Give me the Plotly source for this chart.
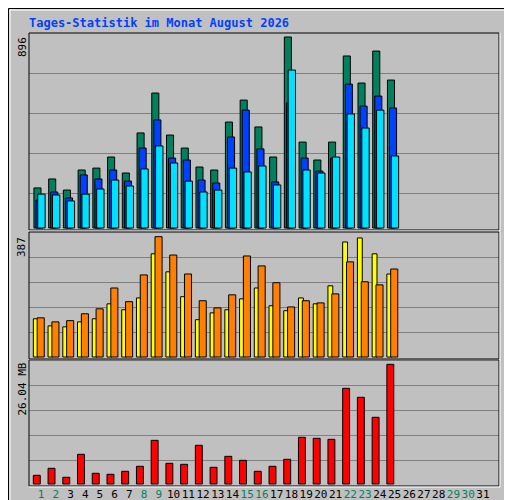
import plotly.graph_objects as go

# Data
days = list(range(1, 32))
anfragen = [188, 230, 178, 272, 281, 333, 258, 446, 633, 436, 375, 286, 272, 497, 600, 474, 333, 896, 403, 319, 403, 807, 680, 830, 694]
dateien = [131, 169, 141, 249, 230, 272, 220, 375, 507, 328, 319, 225, 211, 427, 553, 371, 216, 586, 328, 267, 328, 675, 572, 619, 563]
seiten = [159, 155, 127, 159, 183, 225, 197, 277, 385, 305, 220, 169, 178, 281, 263, 291, 202, 741, 272, 258, 333, 535, 469, 553, 338]
besuche = [123, 100, 97, 113, 123, 171, 152, 190, 332, 274, 194, 120, 142, 152, 187, 222, 165, 149, 190, 171, 229, 370, 383, 332, 267]
rechner = [126, 113, 117, 139, 155, 222, 178, 264, 387, 328, 267, 181, 158, 200, 325, 293, 239, 161, 181, 174, 203, 306, 242, 232, 283]
volumen_mb = [1.89, 3.41, 1.46, 6.46, 2.33, 2.11, 2.76, 3.85, 9.50, 4.50, 4.28, 8.42, 3.63, 6.02, 5.15, 2.76, 3.85, 5.37, 10.16, 9.94, 9.72, 20.81, 18.86, 14.51, 26.04]
weekend = [1, 2, 8, 9, 15, 16, 22, 23, 29, 30]

BG = "#C0C0C0"
GREEN = "#00805C"
BLUE = "#0040FF"
CYAN = "#00E0FF"
YELLOW = "#FFFF00"
ORANGE = "#FF8000"
RED = "#FF0000"
MONO = "DejaVu Sans Mono"

def py(px):
    return 1 - px / 500

def px_x(px):
    return px / 512

n = len(anfragen)
x = days[:n]

fig = go.Figure()

def bars(vals, color, offset, width, xa, ya):
    fig.add_trace(go.Bar(x=x, y=vals, offset=offset, width=width,
                         marker=dict(color=color, line=dict(color="black", width=1)),
                         xaxis=xa, yaxis=ya, showlegend=False, hoverinfo="skip"))

bars(anfragen, GREEN, -0.48, 0.48, "x", "y")
bars(dateien, BLUE, -0.34, 0.48, "x", "y")
bars(seiten, CYAN, -0.22, 0.5, "x", "y")
bars(besuche, YELLOW, -0.52, 0.33, "x2", "y2")
bars(rechner, ORANGE, -0.26, 0.48, "x2", "y2")
bars(volumen_mb, RED, -0.52, 0.47, "x3", "y3")

k1 = 896 / 191
k2 = 387 / 120.3
k3 = 26.04 / 119.7

xr = [1 + (21 - 33) / 14.73, 1 + (491 - 33) / 14.73]
xdom = [px_x(21), px_x(491)]
xcommon = dict(range=xr, domain=xdom, showgrid=False, zeroline=False, showline=False)

tick_text = ['<span style="color:%s">%d</span>' % ("#008060" if d in weekend else "black", d) for d in days]

ycommon = dict(showline=False, zeroline=False, showticklabels=False, ticks="",
               gridcolor="#808080", gridwidth=1)

fig.update_layout(
    width=512, height=500, margin=dict(l=0, r=0, t=0, b=0, autoexpand=False),
    paper_bgcolor=BG, plot_bgcolor=BG, barmode="overlay",
    font=dict(family=MONO, color="black"),
    xaxis=dict(**xcommon, anchor="y", showticklabels=False),
    xaxis2=dict(**xcommon, anchor="y2", showticklabels=False),
    xaxis3=dict(**xcommon, anchor="y3", tickvals=days, ticktext=tick_text, tickangle=0,
                tickfont=dict(size=11, family=MONO), ticks="", ticklen=0),
    yaxis=dict(**ycommon, domain=[py(222), py(25)], range=[-2 * k1, 195 * k1],
               tickvals=[h * k1 for h in (35, 75, 115, 155)]),
    yaxis2=dict(**ycommon, domain=[py(351), py(224)], range=[-2 * k2, 125 * k2],
                tickvals=[h * k2 for h in (25, 50, 75, 100)]),
    yaxis3=dict(**ycommon, domain=[py(478), py(352)], range=[-2 * k3, 124 * k3],
                tickvals=[h * k3 for h in (24, 49, 74, 99)]),
)

# panel frames
for top, bot in ((25, 222), (224, 351), (352, 478)):
    fig.add_shape(type="rect", xref="paper", yref="paper", x0=px_x(21), x1=px_x(491),
                  y0=py(bot), y1=py(top), line=dict(color="black", width=1))
    fig.add_shape(type="line", xref="paper", yref="paper", x0=px_x(21), x1=px_x(492),
                  y0=py(bot + 1), y1=py(bot + 1), line=dict(color="white", width=1))
    fig.add_shape(type="line", xref="paper", yref="paper", x0=px_x(492), x1=px_x(492),
                  y0=py(bot + 1), y1=py(top), line=dict(color="white", width=1))

# outer frame
fig.add_shape(type="rect", xref="paper", yref="paper", x0=0.001, x1=0.999, y0=0.001, y1=0.999,
              line=dict(color="black", width=1))
fig.add_shape(type="rect", xref="paper", yref="paper", x0=px_x(2), x1=px_x(509),
              y0=py(497), y1=py(2), line=dict(color="white", width=1))

fig.add_annotation(text="<b>Tages-Statistik im Monat August 2026</b>", xref="paper", yref="paper",
                   x=px_x(19), y=py(15), xanchor="left", yanchor="middle", showarrow=False,
                   font=dict(family=MONO, size=12, color=BLUE))

for label, top in (("896", 27), ("387", 227), ("26.04 MB", 353)):
    fig.add_annotation(text=label, xref="paper", yref="paper", x=px_x(14), y=py(top),
                       xanchor="center", yanchor="top", textangle=-90, showarrow=False,
                       font=dict(family=MONO, size=11, color="black"))

parts = [("Volumen", RED), ("Vol. In", BLUE), ("Vol. Out", "#008060"), ("Rechner", ORANGE),
         ("Besuche", YELLOW), ("Seiten", CYAN), ("Dateien", BLUE), ("Anfragen", "#008060")]
sep = '<span style="color:#404040"> / </span>'
legend_text = sep.join('<span style="color:%s">%s</span>' % (c, t) for t, c in parts)
fig.add_annotation(text=legend_text, xref="paper", yref="paper", x=px_x(502), y=py(254),
                   xanchor="center", yanchor="middle", textangle=-90, showarrow=False,
                   font=dict(family=MONO, size=9.6))

fig.write_html("out.html")
